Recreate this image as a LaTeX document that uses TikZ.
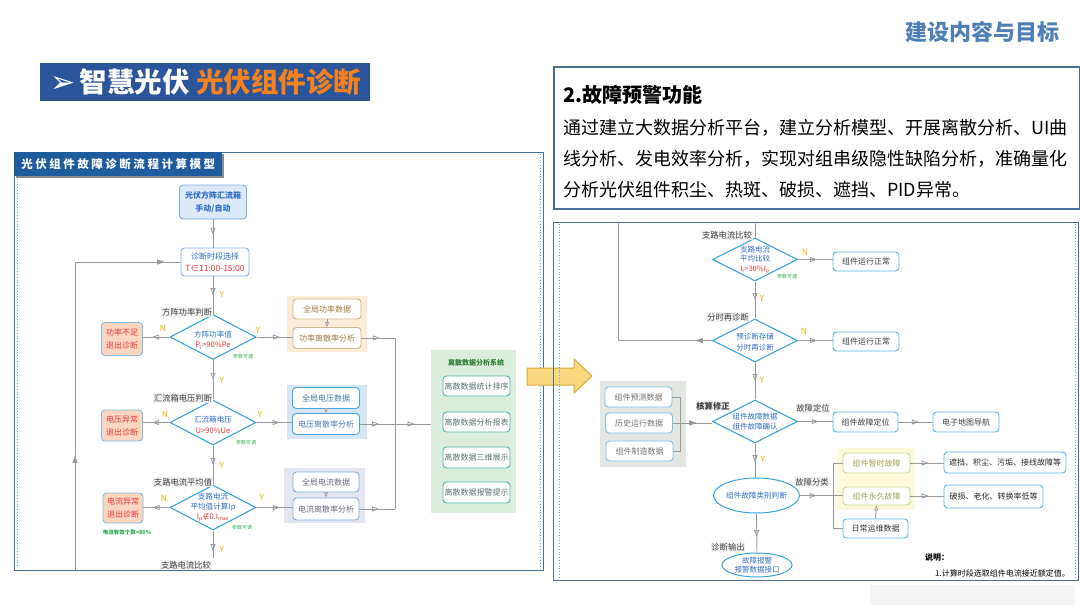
\documentclass[tikz,border=0pt]{standalone}
\usepackage{fontspec}
\setmainfont{Noto Sans CJK SC}
\newfontfamily\symf{DejaVu Sans}
\usetikzlibrary{arrows.meta,shapes.geometric,decorations.markings}
\newcommand\fz[2]{\fontsize{#1}{#2}\selectfont}
\definecolor{bannerblue}{HTML}{2B559A}
\definecolor{orng}{HTML}{F5821F}
\definecolor{titleblue}{HTML}{4F7FB5}
\definecolor{framec}{HTML}{4A6E94}
\definecolor{hdrblue}{HTML}{1F5C9E}
\definecolor{skyb}{HTML}{5DB3E6}
\definecolor{diab}{HTML}{3AA3DD}
\definecolor{dtxt}{HTML}{2F6EC4}
\definecolor{rtxt}{HTML}{E8383D}
\definecolor{amber}{HTML}{F2B300}
\definecolor{pgreen}{HTML}{2EAA4E}
\definecolor{conn}{HTML}{9A9A9A}
\definecolor{peach}{HTML}{FBD7C2}
\definecolor{exitbd}{HTML}{7FBCE0}
\definecolor{startfill}{HTML}{DCE9F8}
\definecolor{startbd}{HTML}{7EB0E0}
\definecolor{orgrp}{HTML}{FCEBD7}
\definecolor{orbd}{HTML}{CDB690}
\definecolor{ortx}{HTML}{9C7B40}
\definecolor{blgrp}{HTML}{D5E6F7}
\definecolor{blbd}{HTML}{4AA3DF}
\definecolor{bltx}{HTML}{4C7AA8}
\definecolor{gygrp}{HTML}{E5E5EF}
\definecolor{gybd}{HTML}{7FB0D8}
\definecolor{gytx}{HTML}{6A6A7E}
\definecolor{grgrp}{HTML}{DDEDDD}
\definecolor{grbd}{HTML}{52B4B0}
\definecolor{grtx}{HTML}{5E7272}
\definecolor{grtitle}{HTML}{2E7D32}
\definecolor{dgrp}{HTML}{E3E6E1}
\definecolor{ylgrp}{HTML}{FBF9DA}
\definecolor{ylbd}{HTML}{C6D98F}
\definecolor{yltx}{HTML}{A3A05E}
\definecolor{arrfill}{HTML}{F9D77E}
\definecolor{arrbd}{HTML}{D9A93A}
\definecolor{labbg}{HTML}{F2F2F2}
\definecolor{labtx}{HTML}{404040}
\begin{document}
\begin{tikzpicture}[x=1pt,y=-1pt,
  sz/.style 2 args={minimum width=#1,minimum height=#2},
  box/.style={draw=skyb,line width=0.9pt,rounded corners=3.5pt,fill=white,inner sep=0pt,align=center,font=\fz{8}{11},text=labtx},
  grp/.style={inner sep=0pt,draw=none},
  dia/.style={diamond,draw=diab,line width=1.1pt,fill=white,inner sep=0pt,minimum width=86pt,minimum height=45pt},
  dtext/.style={font=\fz{7.6}{10.5},align=center,text=dtxt,inner sep=0pt},
  lab/.style={font=\fz{8.3}{10},text=labtx,fill=labbg,inner sep=0.8pt},
  yn/.style={font=\fz{8.5}{10},text=amber,inner sep=0pt},
  parm/.style={font=\fz{5}{6},text=pgreen,inner sep=0pt},
  con/.style={draw=conn,line width=0.9pt},
  oarr/.style={con,postaction={decorate},decoration={markings,mark=at position #1 with {\arrow{Triangle[open,length=7pt,width=5pt,line width=0.8pt]}}}},
  oarr/.default=0.6,
  farr/.style={con,postaction={decorate},decoration={markings,mark=at position #1 with {\arrow{Triangle[length=8pt,width=5pt]}}}},
  farr/.default=0.6,
  sarr/.style={con,-{Triangle[open,length=5pt,width=4pt,line width=0.7pt]}},
  ell/.style={ellipse,draw=diab,line width=1pt,fill=white,inner sep=0pt,align=center,text=dtxt},
]
\path[use as bounding box,fill=white] (0,0) rectangle (1080,608);

% ---------- headings ----------
\node[font=\fz{22}{24}\bfseries,text=titleblue,anchor=east,inner sep=0pt] (ttl) at (1060,32) {建设内容与目标};
\node[fill=bannerblue,sz={330pt}{38pt},anchor=north west,inner sep=0pt] (ban) at (40,63) {};
\node[anchor=west,font=\fz{27.5}{29}\bfseries,text=white,inner sep=0pt] (bant) at (50,82) {{\symf\fz{30}{30}➢}\,智慧光伏 \textcolor{orng}{光伏组件诊断}};

\node[draw=framec,line width=1.5pt,sz={526pt}{142pt},anchor=north west] (tb) at (553,66) {};
\node[anchor=west,font=\fz{20}{22}\bfseries,inner sep=0pt] (tbt) at (563,95) {2.故障预警功能};
\node[anchor=west,font=\fz{18}{20},inner sep=0pt] (tl1) at (563,128) {通过建立大数据分析平台，建立分析模型、开展离散分析、UI曲};
\node[anchor=west,font=\fz{18}{20},inner sep=0pt] (tl2) at (563,159) {线分析、发电效率分析，实现对组串级隐性缺陷分析，准确量化};
\node[anchor=west,font=\fz{18}{20},inner sep=0pt] (tl3) at (563,190) {分析光伏组件积尘、热斑、破损、遮挡、PID异常。};

% ---------- left panel ----------
\node[draw=framec,line width=1pt,sz={529pt}{418pt},anchor=north west] (lf) at (14,152) {};
\draw[skyb,dotted,line width=0.8pt] (17,176) -- (17,568);
\draw[skyb,dotted,line width=0.8pt] (540,154) -- (540,568);
\node[fill=black!45,sz={208pt}{24pt},anchor=north west,inner sep=0pt] (hdrs) at (16,154) {};
\node[fill=hdrblue,sz={208pt}{24pt},anchor=north west,inner sep=0pt,text=white,font=\fz{11.5}{12}\bfseries] (hdr) at (14,152) {\addfontfeature{LetterSpace=22}光伏组件故障诊断流程计算模型};

% groups
\node[grp,fill=orgrp,sz={80pt}{56pt}] (g1) at (327,324) {};
\node[grp,fill=blgrp,sz={80pt}{54pt}] (g2) at (327,412) {};
\node[grp,fill=gygrp,sz={81pt}{55pt}] (g3) at (324.5,495.5) {};
\node[grp,fill=grgrp,sz={85pt}{163pt}] (gp) at (473.5,431.5) {};

\node[box,sz={68pt}{20pt},draw=orbd,text=ortx] (g1a) at (327,309) {全局功率数据};
\node[box,sz={68pt}{21pt},draw=orbd,text=ortx] (g1b) at (327,338) {功率离散率分析};
\node[box,sz={67pt}{21pt},draw=blbd,text=bltx] (g2a) at (326,398) {全局电压数据};
\node[box,sz={67pt}{21pt},draw=blbd,text=bltx] (g2b) at (326,424) {电压离散率分析};
\node[box,sz={66pt}{20pt},draw=gybd,text=gytx] (g3a) at (326,482) {全局电流数据};
\node[box,sz={66pt}{22pt},draw=gybd,text=gytx] (g3b) at (326,509) {电流离散率分析};
\draw[sarr] (g1a.south) -- (g1b.north);
\draw[sarr] (g2a.south) -- (g2b.north);
\draw[sarr] (g3a.south) -- (g3b.north);

\node[font=\fz{7}{8}\bfseries,text=grtitle,inner sep=0pt] (gpt) at (476,363) {离散数据分析系统};
\node[box,sz={67pt}{20pt},draw=grbd,text=grtx] (c1) at (476.5,386) {离散数据统计排序};
\node[box,sz={67pt}{20pt},draw=grbd,text=grtx] (c2) at (476.5,422) {离散数据分析报表};
\node[box,sz={67pt}{21pt},draw=grbd,text=grtx] (c3) at (476.5,457.5) {离散数据三维展示};
\node[box,sz={67pt}{21pt},draw=grbd,text=grtx] (c4) at (476.5,492.5) {离散数据报警提示};

% main flow
\node[box,sz={67pt}{34pt},fill=startfill,draw=startbd,text=dtxt,font=\fz{8}{13}\bfseries] (s0) at (213,202) {光伏方阵汇流箱\\手动/自动};
\node[box,sz={68pt}{28pt},draw=startbd,font=\fz{8}{11.5}] (s1) at (215,262) {\textcolor{dtxt}{诊断时段选择}\\\textcolor{rtxt}{\fz{8.5}{11.5}T∈11:00-15:00}};

\node[dia] (d1) at (213,337) {};
\node[dtext] (d1t) at (213,340) {方阵功率值\\\textcolor{rtxt}{P\textsubscript{i}>90\%Pe}};
\node[lab] (d1l) at (187,312) {方阵功率判断};
\node[dia] (d2) at (213,422.5) {};
\node[dtext] (d2t) at (213,425) {汇流箱电压\\\textcolor{rtxt}{U>90\%Ue}};
\node[lab] (d2l) at (183,398) {汇流箱电压判断};
\node[dia] (d3) at (213,507.5) {};
\node[dtext,font=\fz{7.6}{10}] (d3t) at (213,507) {支路电流\\平均值计算Ip\\\textcolor{rtxt}{I\textsubscript{p}{\symf ∉}0.I\textsubscript{max}}};
\node[lab] (d3l) at (183,482) {支路电流平均值};
\node[lab] (d4l) at (186,565) {支路电流比较};

\node[box,sz={41pt}{33pt},fill=peach,draw=exitbd,text=rtxt,font=\fz{8}{13}] (e1) at (122,339) {功率不足\\退出诊断};
\node[box,sz={41pt}{31pt},fill=peach,draw=exitbd,text=rtxt,font=\fz{8}{13}] (e2) at (122,425.5) {电压异常\\退出诊断};
\node[box,sz={40pt}{30pt},fill=peach,draw=exitbd,text=rtxt,font=\fz{8}{13}] (e3) at (123,508) {电流异常\\退出诊断};
\node[font=\fz{5.5}{6}\bfseries,text=pgreen,inner sep=0pt] (e3n) at (127,532) {电流有效个数<80\%};

\node[parm] (p1) at (243,357) {参数可调};
\node[parm] (p2) at (246,443) {参数可调};
\node[parm] (p3) at (242,528) {参数可调};

\node[yn] (y1) at (222,294) {Y};
\node[yn] (n1l) at (163,328) {N};
\node[yn] (y2) at (258,330) {Y};
\node[yn] (y3) at (222,380) {Y};
\node[yn] (n2l) at (165,414) {N};
\node[yn] (y4) at (260,414) {Y};
\node[yn] (y5) at (222,465) {Y};
\node[yn] (n3l) at (164,498) {N};
\node[yn] (y6) at (262,497) {Y};
\node[yn] (y7) at (222,549) {Y};

\coordinate (d3out) at (213,558);
\coordinate (loopL) at (75,570);
\coordinate (bus1) at (395,338);
\coordinate (bus2) at (395,424);
\coordinate (bus3) at (395,509);

\draw[oarr=0.55] (s0.south) -- (s0.south |- s1.north);
\draw[oarr=0.5] (s1.south -| d1.north) -- (d1.north);
\draw[oarr=0.5] (d1.south) -- (d2.north);
\draw[oarr=0.5] (d2.south) -- (d3.north);
\draw[oarr=0.75] (d3.south) -- (d3out);
\draw[oarr=0.65] (d1.west) -- (d1.west -| e1.east);
\draw[oarr=0.65] (d2.west) -- (d2.west -| e2.east);
\draw[oarr=0.65] (d3.west) -- (d3.west -| e3.east);
\draw[oarr=0.65] (d1.east) -- (d1.east -| g1b.west);
\draw[oarr=0.65] (d2.east) -- (d2.east -| g2b.west);
\draw[oarr=0.65] (d3.east) -- (d3.east -| g3b.west);
\draw[oarr=0.55] (g1b.east) -- (bus1);
\draw[oarr=0.55] (g2b.east) -- (bus2);
\draw[oarr=0.55] (g3b.east) -- (bus3);
\draw[con] (bus1) -- (bus3);
\draw[oarr=0.55] (bus2) -- (bus2 -| gp.west);
\draw[con,postaction={decorate},decoration={markings,
  mark=at position 115pt with {\arrow{Triangle[length=8pt,width=5pt]}},
  mark=at position 398pt with {\arrow{Triangle[length=8pt,width=5pt]}}}] (loopL) |- (s1.west);

% ---------- middle arrow ----------
\draw[fill=arrfill,draw=arrbd,line width=1pt,line join=round] (527,368) -- (574,368) -- (574,359) -- (592,376) -- (574,393) -- (574,385) -- (527,385) -- cycle;

% ---------- right panel ----------
\node[draw=framec,line width=1pt,sz={525pt}{358pt},anchor=north west] (rf) at (553,222) {};
\draw[skyb,dotted,line width=0.8pt] (559,224) -- (559,578);
\draw[skyb,dotted,line width=0.8pt] (1075,224) -- (1075,578);

\node[grp,fill=dgrp,sz={86pt}{86pt}] (dg) at (643,424) {};
\node[grp,fill=ylgrp,sz={78pt}{62pt}] (yg) at (876,479) {};

\node[dia,minimum width=85pt,minimum height=43pt] (r1) at (755,259.5) {};
\node[dtext,font=\fz{7.5}{9.5}] (r1t) at (755,259.5) {支路电流\\平均比较\\\textcolor{rtxt}{I\textsubscript{i}>30\%I\textsubscript{p}}};
\node[lab] (r1l) at (727,235) {支路电流比较};
\node[dia,minimum width=85pt,minimum height=43pt] (r2) at (755,340.5) {};
\node[dtext,font=\fz{7.5}{11}] (r2t) at (755,342.5) {预诊断存储\\分时再诊断};
\node[lab] (r2l) at (728,317) {分时再诊断};
\node[dia,minimum width=85pt,minimum height=43pt] (r3) at (755,421.5) {};
\node[dtext,font=\fz{7.5}{10}] (r3t) at (755,422) {组件故障数据\\组件故障确认};
\node[lab,font=\fz{8.3}{10}\bfseries] (r3l) at (713,406) {核算修正};
\node[lab] (r3r) at (813,408) {故障定位};

\node[box,sz={66pt}{19pt}] (n1) at (866,261.5) {组件运行正常};
\node[box,sz={66pt}{19pt}] (n2) at (866,341.5) {组件运行正常};
\node[box,sz={65pt}{20pt}] (n3) at (865.5,422) {组件故障定位};
\node[box,sz={66pt}{20pt}] (n4) at (966,422) {电子地图导航};

\node[box,sz={67pt}{20pt},draw=skyb!80,text=black!55] (rd1) at (638.5,397) {组件预测数据};
\node[box,sz={67pt}{20pt},draw=skyb!80,text=black!55] (rd2) at (639,423) {历史运行数据};
\node[box,sz={67pt}{20pt},draw=skyb!80,text=black!55] (rd3) at (639.5,451) {组件制造数据};

\node[ell,minimum width=83pt,minimum height=35pt,font=\fz{7.6}{9}] (el1) at (756.5,495.5) {组件故障类别判断};
\node[lab] (el1l) at (812,482) {故障分类};
\node[ell,minimum width=70pt,minimum height=24pt,font=\fz{7.5}{9.5}] (el2) at (757,565) {故障报警\\报警数据接口};
\node[lab] (el2l) at (728,547) {诊断输出};

\node[box,sz={67pt}{20pt},draw=ylbd,text=yltx] (t1) at (876.5,463) {组件暂时故障};
\node[box,sz={67pt}{18pt},draw=ylbd,text=yltx] (t2) at (876.5,496) {组件永久故障};
\node[box,sz={65pt}{19pt},text=black!80] (dm) at (875.5,528.5) {日常运维数据};
\node[box,sz={122pt}{21pt},text=black!85] (o1) at (1005,462.5) {遮挡、积尘、污垢、接线故障等};
\node[box,sz={99pt}{23pt},text=black!85] (o2) at (993.5,496.5) {破损、老化、转换率低等};

\node[parm] (rp1) at (787,277) {参数可调};
\node[yn] (rn1) at (805,252) {N};
\node[yn] (ry1) at (762,298) {Y};
\node[yn] (rn2) at (804,331) {N};
\node[yn] (ry2) at (762,380) {Y};
\node[yn] (ry3) at (763,459) {Y};

\node[anchor=west,font=\fz{8}{10}\bfseries,inner sep=0pt] (sm) at (925,557) {说明：};
\node[anchor=west,font=\fz{8}{10},inner sep=0pt] (sm1) at (935,573) {1.计算时段选取组件电流接近额定值。};

\coordinate (topR) at (755,222);
\coordinate (loopR) at (618,222);
\coordinate (bk1) at (680,423);
\coordinate (bk2) at (833,495.5);

\draw[con] (topR) -- (r1.north);
\draw[oarr=0.5] (r1.south) -- (r2.north);
\draw[oarr=0.5] (r2.south) -- (r3.north);
\draw[oarr=0.55] (r1.east) -- (r1.east -| n1.west);
\draw[oarr=0.55] (r2.east) -- (r2.east -| n2.west);
\draw[farr=17pt] (r2.west) -| (loopR);
\draw[con] (rd1.east) -| (bk1);
\draw[con] (rd3.east) -| (bk1);
\draw[farr=0.62] (rd2.east) -- (rd2.east -| r3.west);
\draw[oarr=0.6] (r3.east) -- (r3.east -| n3.west);
\draw[oarr=0.6] (n3.east) -- (n4.west);
\draw[oarr=0.55] (r3.south) -- (r3.south |- el1.north);
\draw[oarr=0.5] (el1.east) -- (bk2);
\draw[con] (t1.west) -| (bk2);
\draw[con] (bk2) |- (dm.west);
\draw[con] (bk2) -- (bk2 -| t2.west);
\draw[sarr] (dm.north) -- (t2.south);
\draw[oarr=0.55] (t1.east) -- (t1.east -| o1.west);
\draw[oarr=0.55] (t2.east) -- (t2.east -| o2.west);
\draw[oarr=0.6] (el1.south) -- (el2.north);

\node[grp,fill=black!4,sz={205pt}{20pt},anchor=north west] (ghost) at (870,585) {};
\end{tikzpicture}
\end{document}
